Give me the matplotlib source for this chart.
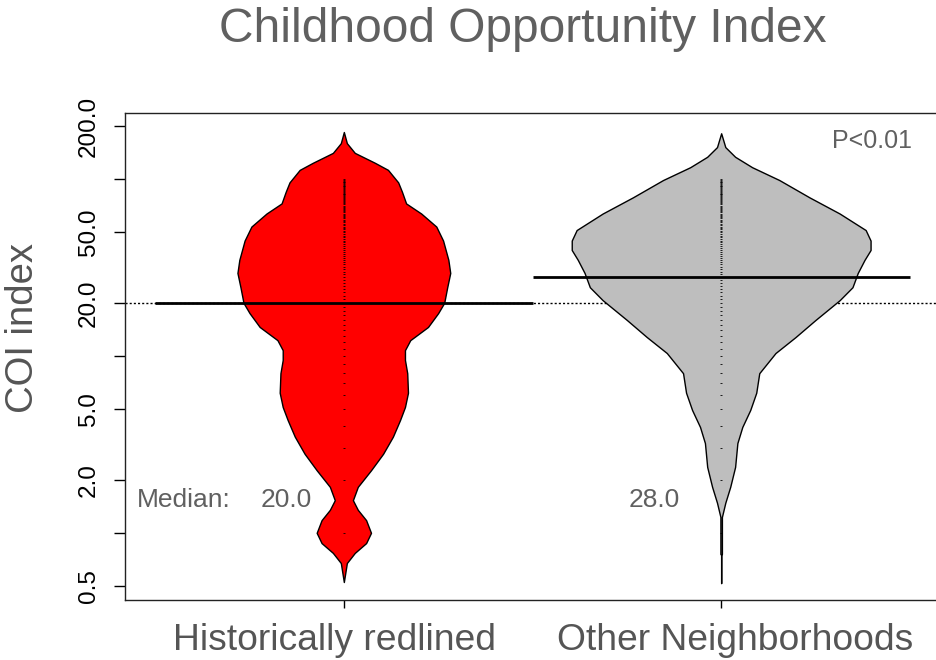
import matplotlib
matplotlib.use("Agg")
import matplotlib.pyplot as plt
import numpy as np

plt.rcParams['font.family'] = ['Liberation Sans', 'DejaVu Sans']

# ---- data ----
groups = ["Historically redlined", "Other Neighborhoods"]
group_medians = [20.0, 28.0]
overall_median = 20.0
bean_colors = ["#FF0000", "#BEBEBE"]

# bean outline: COI value and half-width (x units) of density
red_values = [185, 160, 141, 124, 113, 96, 85, 73, 64, 54, 45, 35, 29.5, 24.5, 20,
              17.5, 14.6, 12.3, 10.8, 9.5, 8.0, 6.2, 5.15, 4.35, 3.5, 2.8, 2.26,
              1.82, 1.53, 1.35, 1.18, 1.0, 0.875, 0.77, 0.675, 0.527]
red_halfwidth = [0.0, 0.008, 0.029, 0.082, 0.117, 0.144, 0.154, 0.165, 0.205, 0.245,
                 0.263, 0.277, 0.282, 0.274, 0.266, 0.250, 0.223, 0.176, 0.162, 0.162,
                 0.168, 0.170, 0.162, 0.149, 0.130, 0.104, 0.072, 0.037, 0.024, 0.037,
                 0.059, 0.072, 0.059, 0.029, 0.008, 0.0]

grey_values = [182, 152, 134, 117, 99, 79, 64, 51.6, 45, 39.8, 35, 29.5, 24.5, 20.7,
               16.0, 12.8, 10.4, 8.0, 6.2, 4.95, 3.97, 3.22, 2.36, 1.82, 1.48, 1.23,
               0.76, 0.75, 0.52]
grey_halfwidth = [0.0, 0.011, 0.037, 0.082, 0.154, 0.234, 0.314, 0.383, 0.396, 0.396,
                  0.380, 0.362, 0.348, 0.314, 0.250, 0.197, 0.144, 0.101, 0.093, 0.077,
                  0.056, 0.043, 0.037, 0.024, 0.011, 0.002, 0.002, 0.0, 0.0]

# observed score levels (bean lines)
score_levels = [1, 2, 3, 4, 5, 6, 7, 8, 9, 10, 11, 12, 13, 14, 15, 16, 17, 18, 19, 20,
                21, 22, 23, 24, 25, 26, 27, 28, 29, 30, 31, 32, 33, 34, 35, 36, 37, 38,
                39, 40, 41, 42, 43, 44, 45, 46, 47, 48, 49, 50, 51, 52, 53, 54, 55, 56,
                57, 58, 59, 60, 61, 62, 63, 64, 65, 66, 67, 68, 69, 70, 71, 72, 73, 74,
                75, 76, 77, 78, 79, 80, 81, 82, 83, 84, 85, 86, 87, 88, 89, 90, 91, 92,
                93, 94, 95, 96, 97, 98, 99, 100]

y_ticks = [0.5, 1, 2, 5, 10, 20, 50, 100, 200]
y_ticklabels = ["0.5", "", "2.0", "5.0", "", "20.0", "50.0", "", "200.0"]

# ---- figure ----
W, H = 936, 660
fig = plt.figure(figsize=(W / 100, H / 100), dpi=100)
ax = fig.add_axes([125 / W, 1 - 600 / H, (940 - 125) / W, (600 - 113) / H])
ax.set_yscale('log')
ax.set_xlim(0.42, 2.58)
ax.set_ylim(0.417, 237)

# overall median line
ax.axhline(overall_median, color='black', lw=1, ls=(0, (1.5, 1.5)), zorder=1)

beans = [(red_values, red_halfwidth), (grey_values, grey_halfwidth)]
for i, ((vals, hw), col, med) in enumerate(zip(beans, bean_colors, group_medians)):
    c = i + 1
    vals = np.array(vals, dtype=float)
    hw = np.array(hw, dtype=float)
    ax.fill_betweenx(vals, c - hw, c + hw, facecolor=col, edgecolor='black',
                     lw=1.0, zorder=2)
    ax.hlines(score_levels, c - 0.0025, c + 0.0025, color='black', lw=0.6, zorder=3)
    ax.hlines(med, c - 0.5, c + 0.5, color='black', lw=2, zorder=4)

ax.set_yticks(y_ticks)
ax.set_yticklabels(y_ticklabels, rotation=90, va='center', fontsize=17.5)
ax.yaxis.set_minor_locator(matplotlib.ticker.NullLocator())
ax.tick_params(axis='y', length=8, width=1, pad=10)
ax.set_xticks([1, 2])
ax.set_xticklabels(["", ""])
ax.tick_params(axis='x', length=6, width=1)

# group labels (slightly offset from ticks as in the reference)
xlab_pos = [0.975, 2.037]
for xp, g in zip(xlab_pos, groups):
    ax.text(xp, -0.1027, g, transform=ax.get_xaxis_transform(), fontsize=26.8,
            color='#555555', ha='center', va='baseline', clip_on=False)

for s in ['left', 'bottom', 'top', 'right']:
    ax.spines[s].set_linewidth(1.0)
    ax.spines[s].set_color('#222222')

fig.text(23 / W, 1 - 328 / H, "COI index", fontsize=27.5, color='#555555',
         rotation=90, ha='center', va='center')

txtc = '#606060'
ax.text(0.452, 1.53, "Median:", fontsize=19, color=txtc, ha='left', va='center')
ax.text(0.848, 1.53, f"{group_medians[0]:.1f}", fontsize=19, color=txtc, ha='center', va='center')
ax.text(1.824, 1.53, f"{group_medians[1]:.1f}", fontsize=19, color=txtc, ha='center', va='center')
ax.text(2.40, 164, "P<0.01", fontsize=18, color=txtc, ha='center', va='center')

fig.text(523 / W, 1 - 30 / H, "Childhood Opportunity Index", fontsize=34.5,
         color='#606060', ha='center', va='center')

fig.savefig("out.png", dpi=100)
